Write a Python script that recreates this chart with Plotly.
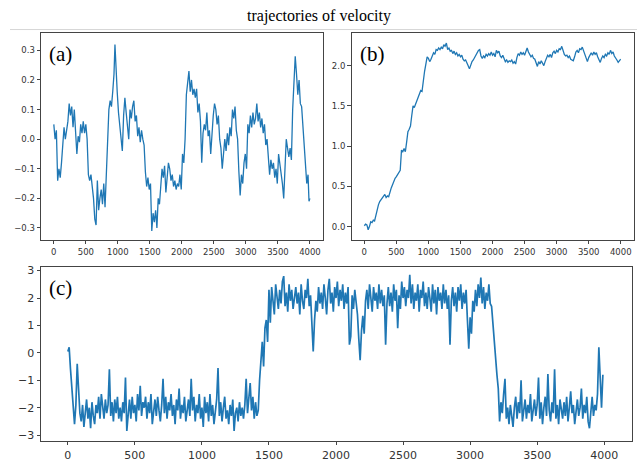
import plotly.graph_objects as go

W, H = 637, 462

# ---------------- data ----------------
a_t = list(range(0, 941, 20)) + [955, 970] + list(range(990, 3971, 20)) + [3985, 3999]
a_v = [
    0.05, 0.0, 0.03, -0.14, -0.10, -0.13, -0.08, -0.02, 0.04, 0.0,
    0.03, 0.06, 0.12, 0.08, 0.11, 0.04, 0.10, 0.03, -0.05, 0.01,
    -0.01, 0.05, 0.02, 0.06, 0.02, 0.05, 0.0, -0.12, -0.14, -0.12,
    -0.16, -0.20, -0.27, -0.29, -0.14, -0.24, -0.20, -0.17, -0.22, -0.15,
    -0.23, -0.12, -0.02, 0.10, 0.13, 0.11, 0.16, 0.22,
    0.32, 0.22,
    0.16, 0.09, 0.05, 0.0, -0.04, 0.08, 0.14, 0.09, 0.04, 0.0,
    0.10, 0.07, 0.11, 0.13, 0.06, 0.08, 0.01, 0.04, -0.01, 0.03,
    0.0, -0.02, -0.11, -0.16, -0.13, -0.17, -0.15, -0.31, -0.25, -0.28,
    -0.24, -0.30, -0.20, -0.22, -0.16, -0.10, -0.13, -0.09, -0.18, -0.12,
    -0.08, -0.10, -0.14, -0.12, -0.16, -0.14, -0.17, -0.15, -0.16, -0.12,
    -0.17, -0.05, -0.08, 0.0, 0.15, 0.19, 0.23, 0.16, 0.20, 0.15,
    0.17, 0.14, 0.17, 0.09, 0.12, 0.06, -0.08, 0.02, 0.05, 0.03,
    0.09, 0.01, 0.03, -0.05, 0.04, 0.08, 0.12, 0.10, 0.05, 0.08,
    0.0, -0.03, -0.10, -0.05, 0.0, -0.04, 0.02, -0.02, 0.04, 0.01,
    0.10, 0.07, 0.11, 0.03, 0.0, -0.11, -0.19, -0.12, -0.15, -0.08,
    -0.05, -0.10, 0.05, 0.02, 0.08, 0.04, 0.09, 0.05, 0.07, 0.12,
    0.06, 0.09, 0.04, 0.07, 0.02, 0.05, -0.02, 0.0, -0.08, -0.12,
    -0.07, -0.10, -0.08, -0.13, -0.10, -0.15, -0.05, -0.08, -0.12, -0.15,
    -0.20, -0.08, 0.0, -0.03, -0.06, -0.03, -0.07, 0.10, 0.20, 0.28,
    0.22, 0.15, 0.20, 0.12, 0.11, 0.04, -0.01, -0.10, -0.15, -0.12,
    -0.21, -0.20,
]

b_t = list(range(0, 4000, 20)) + [3999]
b_v = [
    0.01, 0.03, 0.02, -0.04, 0.0, 0.06, 0.05, 0.08, 0.07, 0.15,
    0.23, 0.27, 0.31, 0.33, 0.35, 0.37, 0.40, 0.36, 0.38, 0.37,
    0.44, 0.48, 0.52, 0.57, 0.60, 0.62, 0.65, 0.67, 0.70, 0.95,
    0.93, 0.97, 0.93, 1.05, 1.18, 1.21, 1.25, 1.38, 1.50, 1.48,
    1.52, 1.58, 1.62, 1.64, 1.69, 1.68, 1.85, 1.93, 2.02, 2.11,
    2.09, 2.05, 2.08, 2.12, 2.16, 2.14, 2.20, 2.19, 2.22, 2.20,
    2.23, 2.21, 2.26, 2.24, 2.28, 2.20, 2.22, 2.18, 2.19, 2.15,
    2.18, 2.14, 2.16, 2.12, 2.14, 2.11, 2.13, 2.08, 2.06, 2.07,
    2.04, 2.00, 1.96, 2.01, 2.05, 2.07, 2.10, 2.13, 2.15, 2.19,
    2.20, 2.12, 2.09, 2.12, 2.10, 2.14, 2.12, 2.15, 2.13, 2.17,
    2.13, 2.15, 2.11, 2.19, 2.16, 2.18, 2.12, 2.10, 2.13, 2.09,
    2.05, 2.07, 2.04, 2.06, 2.05, 2.07, 2.03, 2.05, 2.02, 2.10,
    2.15, 2.13, 2.17, 2.14, 2.16, 2.13, 2.18, 2.22, 2.17, 2.14,
    2.11, 2.13, 2.09, 2.08, 2.04, 1.99, 2.05, 2.02, 2.06, 2.03,
    2.00, 2.05, 2.10, 2.13, 2.11, 2.14, 2.10, 2.16, 2.18, 2.15,
    2.19, 2.17, 2.21, 2.20, 2.24, 2.18, 2.14, 2.12, 2.13, 2.10,
    2.12, 2.08, 2.07, 2.06, 2.11, 2.17, 2.19, 2.16, 2.21, 2.20,
    2.23, 2.18, 2.12, 2.08, 2.05, 2.10, 2.14, 2.16, 2.13, 2.17,
    2.14, 2.16, 2.11, 2.06, 2.04, 2.09, 2.12, 2.10, 2.14, 2.12,
    2.16, 2.14, 2.19, 2.15, 2.17, 2.12, 2.10, 2.07, 2.04, 2.06,
    2.08,
]

c_t = list(range(0, 4000, 10))
c_v = [
    0.05, 0.2, -0.6, -1.2, -1.8, -2.6, -1.9, -0.4, -1.3, -2.2,
    -2.5, -1.9, -2.7, -2.1, -1.7, -2.4, -2.0, -2.75, -1.8, -2.3,
    -2.6, -1.9, -2.2, -1.6, -2.4, -1.5, -2.1, -2.4, -1.7, -2.2,
    -1.9, -0.6, -2.3, -1.8, -2.5, -1.7, -2.2, -1.6, -2.4, -2.0,
    -2.5, -1.8, -2.2, -0.9, -2.85, -2.1, -1.7, -2.4, -1.6, -2.2,
    -1.9, -2.5, -1.5, -2.1, -1.2, -2.3, -1.8, -2.0, -1.6, -2.4,
    -1.8, -2.2, -1.5, -2.6, -2.0, -1.7, -2.3, -1.6, -2.1, -2.5,
    -1.9, -0.95, -2.2, -1.6, -2.4, -1.8, -2.1, -1.5, -2.3, -1.9,
    -2.6, -1.7, -2.1, -1.3, -2.4, -1.9, -2.2, -1.6, -2.5, -2.0,
    -1.7, -2.3, -0.95, -2.1, -1.6, -2.5, -1.9, -2.2, -1.5, -2.4,
    -2.0, -2.7, -1.6, -2.2, -1.8, -2.5, -1.5, -2.3, -1.9, -2.6,
    -2.1, -1.7, -0.55, -2.3, -1.8, -2.5, -2.0, -1.6, -2.4, -2.1,
    -2.6, -1.9, -2.3, -1.7, -2.85, -2.2, -2.0, -2.5, -1.8, -2.3,
    -2.0, -2.4, -1.9, -0.95, -2.2, -1.5, -1.1, -2.1, -1.6, -2.4,
    -1.8, -2.3, -2.1, -1.0, -0.2, 0.4, -0.5, 0.9, 1.2, 0.4,
    2.3, 1.1, 2.4, 1.9, 1.4, 2.5, 2.0, 1.6, 2.3, 1.8,
    2.6, 2.8, 1.7, 2.2, 1.5, 2.5, 1.9, 2.3, 1.6, 2.1,
    2.4, 1.8, 2.2, 1.4, 2.5, 1.9, 1.6, 2.3, 2.0, 2.7,
    1.7, 2.1, 0.75, 0.05, 1.2, 1.9, 1.5, 2.4, 1.8, 2.2,
    1.6, 2.5, 2.0, 1.4, 2.3, 2.7, 1.8, 2.2, 1.5, 2.4,
    2.0, 2.6, 1.7, 2.3, 1.9, 2.5, 1.6, 2.2, 1.8, 2.4,
    0.3, 0.6, 2.1, 1.6, 2.3, 1.8, 1.4, 0.5, -0.27, 0.8,
    1.35, 0.7, 1.9, 2.3, 1.6, 2.5, 2.0, 1.5, 2.4, 1.9,
    2.2, 1.6, 2.5, 1.8, 2.3, 1.7, 2.1, 0.3, 1.8, 2.4,
    1.7, 2.2, 1.5, 2.5, 1.9, 2.3, 0.9, 2.1, 1.6, 2.6,
    2.0, 2.4, 1.7, 2.3, 2.0, 2.85, 1.8, 2.5, 1.6, 2.2,
    1.9, 2.5, 1.5, 2.3, 2.0, 2.6, 1.7, 2.2, 1.6, 2.4,
    2.0, 1.5, 2.5, 1.8, 2.3, 1.4, 2.4, 1.9, 2.2, 1.6,
    2.5, 1.8, 2.3, 1.6, 2.1, 0.3, 1.9, 2.4, 1.7, 2.2,
    1.5, 2.4, 1.9, 2.5, 1.6, 2.2, 1.8, 2.3, 1.2, 0.15,
    1.3, 0.7, 1.9, 1.5, 2.3, 1.7, 2.5, 2.0, 2.75, 1.8,
    2.4, 1.6, 2.2, 1.9, 2.5, 1.8, 1.7, 1.0, 0.4, -0.3,
    -0.8, -1.3, -2.5, -1.8, -2.2, -1.5, -0.95, -2.4, -2.0, -2.6,
    -1.9, -2.3, -2.7, -2.0, -1.6, -2.4, -1.8, -2.2, -1.0, -2.5,
    -2.1, -1.7, -2.4, -1.9, -2.2, -1.5, -2.5, -2.0, -1.7, -2.3,
    -1.9, -0.9, -2.4, -1.8, -2.6, -2.0, -1.6, -2.3, -0.77, -2.1,
    -2.5, -1.8, -2.2, -0.6, -2.4, -1.9, -2.6, -1.7, -2.1, -2.4,
    -1.8, -2.3, -1.6, -2.5, -2.0, -1.4, -2.2, -1.9, -2.6, -2.0,
    -1.7, -2.3, -2.0, -1.3, -2.4, -1.9, -2.2, -1.6, -2.5, -2.75,
    -2.0, -1.6, -2.3, -1.9, -2.1, -1.5, 0.2, -0.9, -2.0, -0.8,
]

x_ticks = [0, 500, 1000, 1500, 2000, 2500, 3000, 3500, 4000]
a_yticks = [-0.3, -0.2, -0.1, 0.0, 0.1, 0.2, 0.3]
b_yticks = [0.0, 0.5, 1.0, 1.5, 2.0]
c_yticks = [-3, -2, -1, 0, 1, 2, 3]

title_text = "trajectories of velocity"
panel_labels = ["(a)", "(b)", "(c)"]

# ---------------- figure ----------------
LINE = "#1f77b4"


def fmt(v, nd):
    s = f"{v:.{nd}f}"
    return s.replace("-", "\u2212")


fig = go.Figure()
fig.add_trace(go.Scatter(x=a_t, y=a_v, mode="lines", line=dict(color=LINE, width=1.3),
                         xaxis="x", yaxis="y", showlegend=False, hoverinfo="skip"))
fig.add_trace(go.Scatter(x=b_t, y=b_v, mode="lines", line=dict(color=LINE, width=1.3),
                         xaxis="x2", yaxis="y2", showlegend=False, hoverinfo="skip"))
fig.add_trace(go.Scatter(x=c_t, y=c_v, mode="lines", line=dict(color=LINE, width=1.7),
                         xaxis="x3", yaxis="y3", showlegend=False, hoverinfo="skip"))

tick_font_small = dict(family="DejaVu Sans", size=8.5, color="#333")
tick_font_big = dict(family="DejaVu Sans", size=11, color="#333")

common = dict(showline=True, mirror=True, linecolor="#444", linewidth=1,
              ticks="outside", ticklen=3.5, tickcolor="#444", tickwidth=0.8,
              showgrid=False, zeroline=False)


def px(xp):
    return xp / W


def py(yp):
    return 1 - yp / H


fig.update_layout(
    width=W, height=H,
    margin=dict(l=0, r=0, t=0, b=0),
    paper_bgcolor="white", plot_bgcolor="white",
    xaxis=dict(domain=[px(41), px(322.7)], range=[-200, 4199], tickvals=x_ticks,
               ticktext=[str(v) for v in x_ticks], tickfont=tick_font_small,
               anchor="y", **common),
    yaxis=dict(domain=[py(241), py(31)], range=[-0.340, 0.357], tickvals=a_yticks,
               ticktext=[fmt(v, 1) for v in a_yticks], tickfont=tick_font_small,
               anchor="x", **common),
    xaxis2=dict(domain=[px(351.5), px(633.5)], range=[-200, 4199], tickvals=x_ticks,
                ticktext=[str(v) for v in x_ticks], tickfont=tick_font_small,
                anchor="y2", **common),
    yaxis2=dict(domain=[py(241), py(31)], range=[-0.165, 2.40], tickvals=b_yticks,
                ticktext=[fmt(v, 1) for v in b_yticks], tickfont=tick_font_small,
                anchor="x2", **common),
    xaxis3=dict(domain=[px(41), px(631.7)], range=[-200, 4205], tickvals=x_ticks,
                ticktext=[str(v) for v in x_ticks], tickfont=tick_font_big,
                anchor="y3", **common),
    yaxis3=dict(domain=[py(445.7), py(269)], range=[-3.215, 3.12], tickvals=c_yticks,
                ticktext=[fmt(v, 0) for v in c_yticks], tickfont=tick_font_big,
                anchor="x3", **common),
)

serif = "Liberation Serif, Times New Roman, serif"
fig.add_annotation(text=title_text, xref="paper", yref="paper", x=0.5, y=py(13),
                   xanchor="center", yanchor="middle", showarrow=False,
                   font=dict(family=serif, size=16, color="black"))
fig.add_shape(type="line", xref="paper", yref="paper", x0=px(10), x1=1.0,
              y0=py(27), y1=py(27), line=dict(color="#d6d6d6", width=1))

label_pos = [(47, 52), (358, 52), (47, 290)]
for lab, (lx, ly) in zip(panel_labels, label_pos):
    fig.add_annotation(text=lab, xref="paper", yref="paper", x=px(lx), y=py(ly),
                       xanchor="left", yanchor="middle", showarrow=False,
                       font=dict(family=serif, size=21, color="black"))

fig.write_html("out.html", config={"displayModeBar": False},
               post_script="document.body.style.margin='0';")
